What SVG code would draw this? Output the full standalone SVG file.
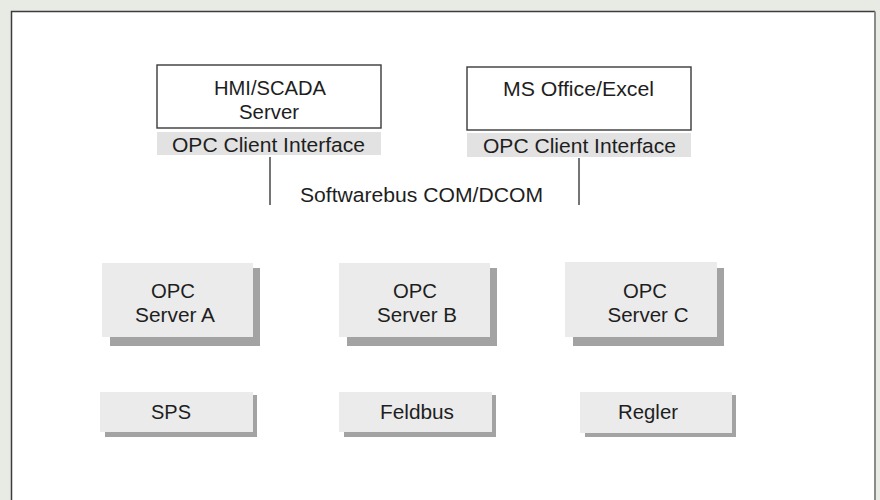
<svg xmlns="http://www.w3.org/2000/svg" width="880" height="500" viewBox="0 0 880 500">
  <style>
    text { font-family: "Liberation Sans", Arial, Helvetica, sans-serif; font-size: 20.5px; fill: #1e1e1e; text-anchor: middle; }
    .app { fill: #ffffff; stroke: #3a3a3a; stroke-width: 1.4; }
    .band { fill: #e2e2e2; }
    .box { fill: #ebebeb; }
    .shadow { fill: #a3a3a3; }
    .bus { stroke: #3a3a3a; stroke-width: 1.4; fill: none; }
  </style>
  <rect x="0" y="0" width="880" height="500" fill="#e8ebe4"/>
  <rect x="11" y="11" width="864" height="495" fill="#ffffff"/>
  <path d="M11.5,506 V11.5 H875" fill="none" stroke="#3c3c3c" stroke-width="1.5"/>
  <path d="M875,11.5 V506" fill="none" stroke="#8a8a8a" stroke-width="2"/>

  <g id="connectors">
    <line class="bus" x1="270" y1="157" x2="270" y2="205"/>
    <line class="bus" x1="579" y1="158" x2="579" y2="205"/>
    <text x="421.5" y="202" textLength="243" lengthAdjust="spacingAndGlyphs">Softwarebus COM/DCOM</text>
  </g>

  <g id="hmi-scada">
    <rect class="app" x="157" y="65" width="224" height="63"/>
    <text x="270" y="95" textLength="112" lengthAdjust="spacingAndGlyphs">HMI/SCADA</text>
    <text x="269" y="119" textLength="60" lengthAdjust="spacingAndGlyphs">Server</text>
    <rect class="band" x="157" y="132" width="224" height="23"/>
    <text x="268.5" y="152" textLength="193" lengthAdjust="spacingAndGlyphs">OPC Client Interface</text>
  </g>

  <g id="ms-office">
    <rect class="app" x="467" y="67" width="224" height="63"/>
    <text x="578.5" y="96" textLength="151" lengthAdjust="spacingAndGlyphs">MS Office/Excel</text>
    <rect class="band" x="467" y="133" width="224" height="24"/>
    <text x="579.5" y="153" textLength="193" lengthAdjust="spacingAndGlyphs">OPC Client Interface</text>
  </g>

  <g id="opc-server-a">
    <rect class="shadow" x="110" y="268" width="150" height="78"/>
    <rect class="box" x="102" y="263" width="151" height="74"/>
    <text x="173" y="298" textLength="44" lengthAdjust="spacingAndGlyphs">OPC</text>
    <text x="175" y="322" textLength="80" lengthAdjust="spacingAndGlyphs">Server A</text>
  </g>

  <g id="opc-server-b">
    <rect class="shadow" x="347" y="268" width="150" height="78"/>
    <rect class="box" x="339" y="263" width="151" height="74"/>
    <text x="415" y="298" textLength="44" lengthAdjust="spacingAndGlyphs">OPC</text>
    <text x="417" y="322" textLength="80" lengthAdjust="spacingAndGlyphs">Server B</text>
  </g>

  <g id="opc-server-c">
    <rect class="shadow" x="573" y="268" width="151" height="78"/>
    <rect class="box" x="565" y="262" width="152" height="75"/>
    <text x="645" y="298" textLength="44" lengthAdjust="spacingAndGlyphs">OPC</text>
    <text x="648" y="322" textLength="81" lengthAdjust="spacingAndGlyphs">Server C</text>
  </g>

  <g id="sps">
    <rect class="shadow" x="105" y="395" width="152" height="42"/>
    <rect class="box" x="100" y="392" width="153" height="40"/>
    <text x="171" y="419" textLength="40" lengthAdjust="spacingAndGlyphs">SPS</text>
  </g>

  <g id="feldbus">
    <rect class="shadow" x="344" y="395" width="152" height="42"/>
    <rect class="box" x="339" y="392" width="153" height="40"/>
    <text x="417" y="419" textLength="74" lengthAdjust="spacingAndGlyphs">Feldbus</text>
  </g>

  <g id="regler">
    <rect class="shadow" x="585" y="395" width="151" height="42"/>
    <rect class="box" x="580" y="392" width="152" height="41"/>
    <text x="648" y="419" textLength="60" lengthAdjust="spacingAndGlyphs">Regler</text>
  </g>
</svg>
